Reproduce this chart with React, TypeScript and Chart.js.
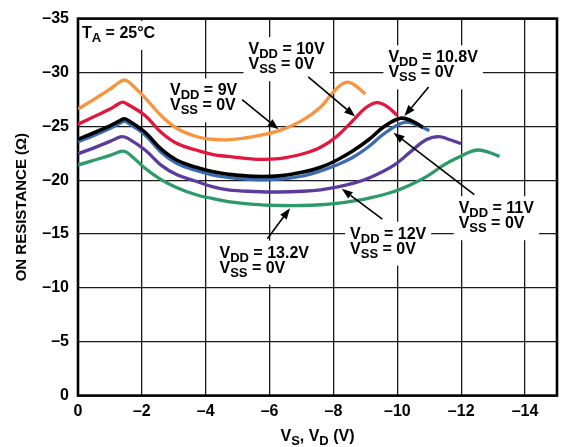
import React, { useEffect, useRef } from 'react';
import { Chart, registerables } from 'chart.js';

Chart.register(...registerables);

// Axis ticks
const xTicks = [0, -2, -4, -6, -8, -10, -12, -14];
const yStep = 5;

// ON resistance curves, VSS = 0V, TA = 25°C
const vdd9X = [0, -0.5, -1.0, -1.3, -1.45, -1.6, -2.1, -2.6, -3.1, -3.7, -4.2, -4.7, -5.5, -6.3, -7.0, -7.6, -8.0, -8.35, -8.6, -9.0];
const vdd9Y = [-26.6, -27.5, -28.45, -29.1, -29.3, -29.1, -27.65, -26.0, -24.8, -24.05, -23.8, -23.75, -24.05, -24.6, -25.5, -26.8, -28.2, -29.05, -28.95, -28.0];

const vdd10X = [0, -0.5, -1.0, -1.25, -1.4, -1.55, -2.1, -2.6, -3.1, -3.7, -4.2, -4.7, -5.5, -6.3, -7.05, -7.6, -8.1, -8.6, -9.0, -9.35, -9.65, -10.0];
const vdd10Y = [-25.2, -25.9, -26.6, -27.05, -27.25, -27.05, -26.0, -24.45, -23.4, -22.8, -22.4, -22.2, -21.95, -22.0, -22.45, -23.05, -24.05, -25.5, -26.7, -27.2, -26.9, -26.0];

const vdd108X = [0, -0.5, -1.0, -1.3, -1.45, -1.6, -2.1, -2.6, -3.1, -3.7, -4.2, -4.7, -5.5, -6.3, -7.05, -7.6, -8.1, -8.6, -9.1, -9.6, -10.1, -10.45, -10.8];
const vdd108Y = [-23.8, -24.4, -25.05, -25.5, -25.7, -25.5, -24.45, -22.9, -21.85, -21.2, -20.8, -20.55, -20.35, -20.4, -20.75, -21.2, -21.85, -22.7, -23.75, -25.0, -25.75, -25.5, -24.9];

const vdd11X = [0, -0.5, -1.0, -1.3, -1.45, -1.6, -2.1, -2.6, -3.1, -3.7, -4.2, -4.7, -5.5, -6.3, -7.05, -7.6, -8.1, -8.6, -9.1, -9.6, -10.2, -10.55, -11.0];
const vdd11Y = [-23.55, -24.15, -24.8, -25.25, -25.45, -25.25, -24.2, -22.6, -21.55, -20.9, -20.5, -20.25, -20.05, -20.1, -20.4, -20.85, -21.4, -22.1, -23.1, -24.35, -25.35, -25.2, -24.6];

const vdd12X = [0, -0.5, -1.0, -1.22, -1.38, -1.55, -2.1, -2.6, -3.1, -3.7, -4.2, -4.7, -5.5, -6.3, -7.05, -7.6, -8.1, -8.6, -9.15, -9.9, -10.4, -10.9, -11.3, -11.6, -12.0];
const vdd12Y = [-22.45, -23.0, -23.6, -23.9, -24.05, -23.9, -22.8, -21.4, -20.5, -19.9, -19.4, -19.1, -18.95, -18.9, -18.97, -19.1, -19.35, -19.7, -20.25, -21.4, -22.6, -23.75, -24.05, -23.8, -23.4];

const vdd132X = [0, -0.5, -1.0, -1.22, -1.38, -1.55, -2.1, -2.6, -3.1, -3.7, -4.2, -4.7, -5.5, -6.3, -7.05, -7.6, -8.1, -8.6, -9.15, -9.9, -10.4, -10.9, -11.45, -12.0, -12.3, -12.55, -12.85, -13.2];
const vdd132Y = [-21.4, -21.85, -22.3, -22.55, -22.7, -22.55, -21.1, -20.05, -19.3, -18.65, -18.3, -18.0, -17.75, -17.65, -17.65, -17.72, -17.85, -18.05, -18.35, -18.95, -19.55, -20.3, -21.4, -22.25, -22.65, -22.8, -22.6, -22.2];

// Callout text (x = left edge of text, y = first baseline, in axis units)
const noteX = [-0.125, -2.88, -5.34, -9.72, -11.92, -8.52, -4.43];
const noteY = [-33.2, -27.87, -31.7, -30.94, -16.93, -14.57, -12.8];
const noteText = [
  ['T_{A} = 25°C'],
  ['V_{DD} = 9V', 'V_{SS} = 0V'],
  ['V_{DD} = 10V', 'V_{SS} = 0V'],
  ['V_{DD} = 10.8V', 'V_{SS} = 0V'],
  ['V_{DD} = 11V', 'V_{SS} = 0V'],
  ['V_{DD} = 12V', 'V_{SS} = 0V'],
  ['V_{DD} = 13.2V', 'V_{SS} = 0V'],
];

// Leader arrows: tail (x1, y1) to head (x2, y2), axis units
const arrowX1 = [-5.14, -7.21, -10.98, -12.41, -9.53, -5.93];
const arrowY1 = [-27.48, -29.59, -28.64, -18.65, -16.38, -14.57];
const arrowX2 = [-6.28, -8.68, -10.22, -9.88, -8.26, -6.64];
const arrowY2 = [-24.73, -25.92, -25.95, -24.4, -19.2, -17.39];

const FONT = '"Liberation Sans", Arial, Helvetica, sans-serif';
const MAIN = 16;
const SUB = 13;
const SUB_SHIFT = 4;

function splitRich(text: string) {
  return text.split(/(_\{[^}]*\})/).filter(Boolean).map((p) =>
    p.startsWith('_{') ? { t: p.slice(2, -1), sub: true } : { t: p, sub: false }
  );
}

function richWidth(ctx: CanvasRenderingContext2D, text: string, size = MAIN, sub = SUB) {
  let w = 0;
  for (const p of splitRich(text)) {
    ctx.font = `bold ${p.sub ? sub : size}px ${FONT}`;
    w += ctx.measureText(p.t).width;
  }
  return w;
}

function drawRich(ctx: CanvasRenderingContext2D, text: string, x: number, y: number, size = MAIN, sub = SUB, shift = SUB_SHIFT) {
  let cx = x;
  ctx.textAlign = 'left';
  ctx.textBaseline = 'alphabetic';
  for (const p of splitRich(text)) {
    ctx.font = `bold ${p.sub ? sub : size}px ${FONT}`;
    ctx.fillText(p.t, cx, p.sub ? y + shift : y);
    cx += ctx.measureText(p.t).width;
  }
}

const LINE_GAP = 15;

function noteBoxes(chart: any) {
  const ctx = chart.ctx as CanvasRenderingContext2D;
  const xs = chart.scales.x;
  const ys = chart.scales.y;
  return noteText.map((lines, i) => {
    const x = xs.getPixelForValue(noteX[i]);
    const y = ys.getPixelForValue(noteY[i]);
    const w = Math.max(...lines.map((l) => richWidth(ctx, l)));
    const bottom = y + (lines.length - 1) * LINE_GAP + SUB_SHIFT + 3;
    return { x, y, lines, left: x - 5, top: y - 12 - 5, right: x + w + 5, bottom: bottom + 5 };
  });
}

const framePlugin = {
  id: 'frameAndCallouts',
  beforeDatasetsDraw(chart: any) {
    const ctx = chart.ctx as CanvasRenderingContext2D;
    const a = chart.chartArea;
    ctx.save();
    ctx.fillStyle = '#ffffff';
    for (const b of noteBoxes(chart)) {
      const top = Math.max(b.top, a.top + 1.5);
      ctx.fillRect(b.left, top, b.right - b.left, b.bottom - top);
    }
    ctx.strokeStyle = '#000000';
    ctx.lineWidth = 2.6;
    ctx.strokeRect(a.left, a.top, a.right - a.left, a.bottom - a.top);
    ctx.restore();
  },
  afterDatasetsDraw(chart: any) {
    const ctx = chart.ctx as CanvasRenderingContext2D;
    const xs = chart.scales.x;
    const ys = chart.scales.y;
    ctx.save();
    ctx.fillStyle = '#000000';
    for (const b of noteBoxes(chart)) {
      b.lines.forEach((l: string, k: number) => drawRich(ctx, l, b.x, b.y + k * LINE_GAP));
    }
    ctx.strokeStyle = '#000000';
    ctx.lineWidth = 1.6;
    for (let i = 0; i < arrowX1.length; i++) {
      const x1 = xs.getPixelForValue(arrowX1[i]);
      const y1 = ys.getPixelForValue(arrowY1[i]);
      const x2 = xs.getPixelForValue(arrowX2[i]);
      const y2 = ys.getPixelForValue(arrowY2[i]);
      const ang = Math.atan2(y2 - y1, x2 - x1);
      const c = Math.cos(ang);
      const s = Math.sin(ang);
      const L = 11;
      const W = 4;
      const bx = x2 - L * c;
      const by = y2 - L * s;
      ctx.beginPath();
      ctx.moveTo(x1, y1);
      ctx.lineTo(bx, by);
      ctx.stroke();
      ctx.beginPath();
      ctx.moveTo(x2, y2);
      ctx.lineTo(bx + W * s, by - W * c);
      ctx.lineTo(bx - W * s, by + W * c);
      ctx.closePath();
      ctx.fill();
    }
    ctx.restore();
  },
  afterDraw(chart: any) {
    const ctx = chart.ctx as CanvasRenderingContext2D;
    const a = chart.chartArea;
    ctx.save();
    ctx.fillStyle = '#000000';
    // y-axis title
    ctx.translate(22, (a.top + a.bottom) / 2);
    ctx.rotate(-Math.PI / 2);
    ctx.font = `bold 15px ${FONT}`;
    ctx.textAlign = 'center';
    ctx.textBaseline = 'middle';
    ctx.fillText('ON RESISTANCE (Ω)', 0, 0);
    ctx.restore();
    // x-axis title
    ctx.save();
    ctx.fillStyle = '#000000';
    const title = 'V_{S}, V_{D} (V)';
    const w = richWidth(ctx, title);
    drawRich(ctx, title, (a.left + a.right) / 2 - w / 2, 441);
    ctx.restore();
  },
};

function pts(xs: number[], ys: number[]) {
  return xs.map((x, i) => ({ x, y: ys[i] }));
}

const fmt = (v: number) => (v === 0 ? '0' : '\u2013' + Math.abs(v));

export default function App() {
  const ref = useRef<HTMLCanvasElement>(null);

  useEffect(() => {
    const line = (label: string, xs: number[], ys: number[], color: string, width = 3.3) => ({
      label,
      data: pts(xs, ys),
      borderColor: color,
      backgroundColor: color,
      borderWidth: width,
      pointRadius: 0,
      fill: false,
      tension: 0.4,
      borderCapStyle: 'butt' as const,
      borderJoinStyle: 'round' as const,
    });

    const chart = new Chart(ref.current!, {
      type: 'line',
      data: {
        datasets: [
          line('VDD = 10.8V', vdd108X, vdd108Y, '#000000', 3.6),
          line('VDD = 11V', vdd11X, vdd11Y, '#3b6cb0'),
          line('VDD = 9V', vdd9X, vdd9Y, '#f7943d'),
          line('VDD = 10V', vdd10X, vdd10Y, '#e2163e'),
          line('VDD = 12V', vdd12X, vdd12Y, '#5b3b9b'),
          line('VDD = 13.2V', vdd132X, vdd132Y, '#2e9a69'),
        ],
      },
      options: {
        responsive: false,
        animation: false,
        events: [],
        layout: { padding: { top: 14, right: 4, left: 0, bottom: 0 } },
        plugins: { legend: { display: false }, tooltip: { enabled: false } },
        scales: {
          x: {
            type: 'linear',
            min: -15,
            max: 0,
            reverse: true,
            afterBuildTicks: (s: any) => {
              s.ticks = xTicks.map((v) => ({ value: v }));
            },
            afterFit: (s: any) => {
              s.height = 51.4;
            },
            border: { display: false },
            grid: { color: '#1a1a1a', lineWidth: 1.3, drawTicks: false },
            ticks: {
              padding: 6,
              color: '#000000',
              font: { family: FONT, size: 16, weight: 'bold' },
              callback: (v: any) => fmt(Number(v)),
              maxRotation: 0,
              autoSkip: false,
            },
          },
          y: {
            type: 'linear',
            min: -35,
            max: 0,
            reverse: true,
            afterFit: (s: any) => {
              s.width = 78;
            },
            border: { display: false },
            grid: { color: '#1a1a1a', lineWidth: 1.3, drawTicks: false },
            ticks: {
              stepSize: yStep,
              padding: 9,
              color: '#000000',
              font: { family: FONT, size: 16, weight: 'bold' },
              callback: (v: any) => fmt(Number(v)),
            },
          },
        },
      },
      plugins: [framePlugin],
    } as any);

    return () => chart.destroy();
  }, []);

  return (
    <div style={{ position: 'fixed', left: 0, top: 0, width: 561, height: 447, background: '#ffffff' }}>
      <canvas ref={ref} width={561} height={447} style={{ display: 'block' }} />
    </div>
  );
}
